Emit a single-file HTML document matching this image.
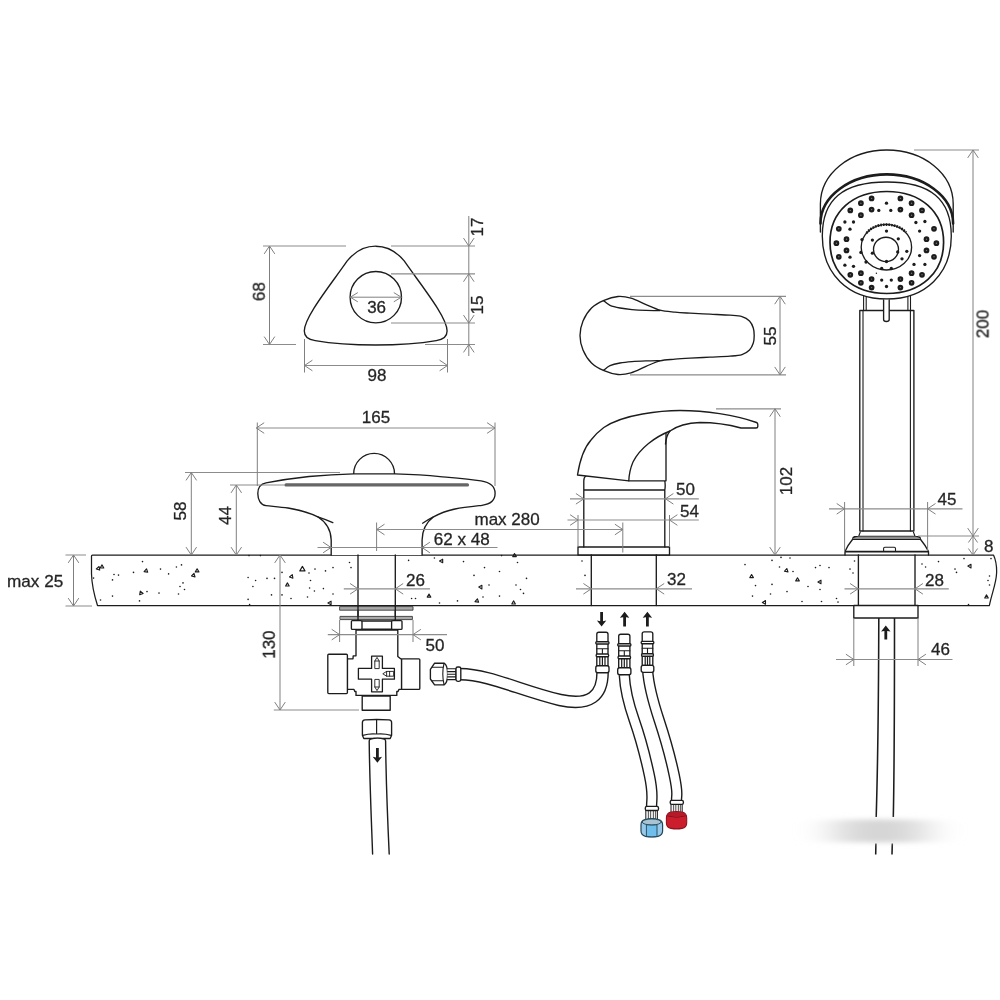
<!DOCTYPE html>
<html lang="en">
<head>
<meta charset="utf-8">
<title>Bath mixer set - dimensional drawing</title>
<style>
html,body{margin:0;padding:0;background:#fff}
body{width:1000px;height:1000px;overflow:hidden}
svg{display:block}
text{font-family:"Liberation Sans",Arial,sans-serif}
</style>
</head>
<body>
<svg width="1000" height="1000" viewBox="0 0 1000 1000">
<defs><filter id="blur" x="-50%" y="-50%" width="200%" height="200%"><feGaussianBlur stdDeviation="20 2.6"/></filter></defs>
<rect width="1000" height="1000" fill="#fff"/>
<g fill="none" stroke="#1c1c1c" stroke-width="1.35" stroke-linecap="round" stroke-linejoin="round">
<path d="M92.5 555 L993.5 555 C995.8 560 996.8 567 996.6 573 C996.2 584 991.5 594 989.4 605.5 L97.5 605.5 C94.5 596 91.8 585 91.5 574 L91.5 556 Q91.5 555 92.5 555Z" fill="#fff" stroke-width="1.25"/>
<g fill="#1c1c1c" stroke="none"><circle cx="142.5" cy="561.6" r="0.8"/><circle cx="114.0" cy="574.5" r="0.8"/><circle cx="118.5" cy="575.1" r="0.8"/><circle cx="112.5" cy="579.9" r="0.8"/><circle cx="93.6" cy="578.1" r="0.8"/><circle cx="133.5" cy="572.4" r="0.8"/><circle cx="160.5" cy="569.1" r="0.8"/><circle cx="176.4" cy="567.0" r="0.8"/><circle cx="181.5" cy="564.9" r="0.8"/><circle cx="168.6" cy="573.9" r="0.8"/><circle cx="183.0" cy="582.9" r="0.8"/><circle cx="180.0" cy="586.5" r="0.8"/><circle cx="184.5" cy="589.5" r="0.8"/><circle cx="178.5" cy="594.0" r="0.8"/><circle cx="159.0" cy="593.1" r="0.8"/><circle cx="147.0" cy="591.6" r="0.8"/><circle cx="112.5" cy="596.1" r="0.8"/><circle cx="100.5" cy="600.0" r="0.8"/><circle cx="139.5" cy="600.9" r="0.8"/><circle cx="248.1" cy="577.5" r="0.8"/><circle cx="255.6" cy="580.5" r="0.8"/><circle cx="252.9" cy="586.5" r="0.8"/><circle cx="267.0" cy="578.4" r="0.8"/><circle cx="274.5" cy="578.4" r="0.8"/><circle cx="271.5" cy="594.9" r="0.8"/><circle cx="248.1" cy="599.4" r="0.8"/><circle cx="249.6" cy="604.5" r="0.8"/><circle cx="282.0" cy="572.4" r="0.8"/><circle cx="282.0" cy="594.9" r="0.8"/><circle cx="291.0" cy="598.5" r="0.8"/><circle cx="307.5" cy="597.0" r="0.8"/><circle cx="315.0" cy="569.1" r="0.8"/><circle cx="325.5" cy="570.9" r="0.8"/><circle cx="333.0" cy="567.6" r="0.8"/><circle cx="309.0" cy="573.0" r="0.8"/><circle cx="310.5" cy="580.5" r="0.8"/><circle cx="309.6" cy="588.0" r="0.8"/><circle cx="314.4" cy="591.0" r="0.8"/><circle cx="323.4" cy="588.6" r="0.8"/><circle cx="333.0" cy="594.0" r="0.8"/><circle cx="349.5" cy="562.5" r="0.8"/><circle cx="351.0" cy="567.6" r="0.8"/><circle cx="249.0" cy="555.6" r="0.8"/><circle cx="260.4" cy="555.6" r="0.8"/><circle cx="408.6" cy="560.4" r="0.8"/><circle cx="434.4" cy="558.0" r="0.8"/><circle cx="463.5" cy="561.6" r="0.8"/><circle cx="484.5" cy="567.6" r="0.8"/><circle cx="499.5" cy="571.5" r="0.8"/><circle cx="517.5" cy="562.5" r="0.8"/><circle cx="526.5" cy="578.4" r="0.8"/><circle cx="474.0" cy="575.4" r="0.8"/><circle cx="489.0" cy="585.0" r="0.8"/><circle cx="516.0" cy="585.0" r="0.8"/><circle cx="520.5" cy="589.5" r="0.8"/><circle cx="523.5" cy="593.4" r="0.8"/><circle cx="499.5" cy="596.1" r="0.8"/><circle cx="483.0" cy="597.0" r="0.8"/><circle cx="457.5" cy="600.9" r="0.8"/><circle cx="439.5" cy="603.0" r="0.8"/><circle cx="411.6" cy="598.5" r="0.8"/><circle cx="415.5" cy="598.5" r="0.8"/><circle cx="582.0" cy="561.0" r="0.8"/><circle cx="585.0" cy="575.4" r="0.8"/><circle cx="501.6" cy="555.6" r="0.8"/><circle cx="745.0" cy="564.6" r="0.8"/><circle cx="772.0" cy="560.4" r="0.8"/><circle cx="781.0" cy="557.4" r="0.8"/><circle cx="790.0" cy="558.0" r="0.8"/><circle cx="779.5" cy="567.0" r="0.8"/><circle cx="793.0" cy="571.5" r="0.8"/><circle cx="815.5" cy="567.6" r="0.8"/><circle cx="820.0" cy="565.5" r="0.8"/><circle cx="829.0" cy="567.6" r="0.8"/><circle cx="850.0" cy="569.1" r="0.8"/><circle cx="854.5" cy="561.0" r="0.8"/><circle cx="853.0" cy="573.0" r="0.8"/><circle cx="772.0" cy="584.4" r="0.8"/><circle cx="755.5" cy="585.6" r="0.8"/><circle cx="787.0" cy="591.6" r="0.8"/><circle cx="808.0" cy="586.5" r="0.8"/><circle cx="820.0" cy="589.5" r="0.8"/><circle cx="770.5" cy="594.0" r="0.8"/><circle cx="752.5" cy="596.1" r="0.8"/><circle cx="802.0" cy="601.5" r="0.8"/><circle cx="821.5" cy="601.5" r="0.8"/><circle cx="836.5" cy="598.5" r="0.8"/><circle cx="838.0" cy="602.1" r="0.8"/><circle cx="922.0" cy="564.0" r="0.8"/><circle cx="925.6" cy="567.0" r="0.8"/><circle cx="938.5" cy="561.6" r="0.8"/><circle cx="955.0" cy="569.1" r="0.8"/><circle cx="956.5" cy="572.4" r="0.8"/><circle cx="964.0" cy="558.6" r="0.8"/><circle cx="989.5" cy="576.0" r="0.8"/><circle cx="988.0" cy="580.5" r="0.8"/><circle cx="989.5" cy="585.0" r="0.8"/><circle cx="991.0" cy="558.6" r="0.8"/><circle cx="968.5" cy="604.5" r="0.8"/></g>
<path stroke-width="1.1" d="M99.1 566.5L99.7 570.1L96.3 568.9ZM102.0 564.9L103.8 568.0L100.2 568.0ZM146.5 568.8L147.7 572.2L144.1 571.6ZM140.3 591.1L143.1 593.5L139.7 594.7ZM194.0 573.4L195.0 576.9L191.5 575.9ZM197.1 568.8L198.9 571.9L195.3 571.9ZM302.4 566.4L305.0 570.9L299.8 570.9ZM292.3 574.6L292.9 578.2L289.5 577.0ZM287.4 582.9L289.2 586.0L285.6 586.0ZM331.1 601.2L331.1 604.8L327.9 603.0ZM442.7 559.2L442.7 562.8L439.5 561.0ZM429.0 594.0L430.8 597.1L427.2 597.1ZM481.9 585.3L481.9 588.9L478.8 587.1ZM477.4 598.8L478.6 602.2L475.0 601.6ZM513.6 600.9L515.4 604.0L511.8 604.0ZM514.5 553.5L516.3 556.6L512.7 556.6ZM751.6 574.5L753.4 577.6L749.8 577.6ZM786.8 568.5L788.0 571.9L784.4 571.3ZM797.5 577.8L799.3 580.9L795.7 580.9ZM821.0 580.2L821.0 583.8L817.9 582.0ZM765.5 600.6L765.5 604.2L762.4 602.4ZM971.0 564.3L971.0 567.9L967.9 566.1ZM986.5 594.9L988.3 598.0L984.7 598.0Z"/>
<path d="M375.7 246.2C386.20 246.20 396.20 251.20 404.20 260.90C421.20 285.40 447.10 317.00 447.10 331.00C447.10 337.00 442.20 339.80 436.20 340.60C420.20 343.40 395.20 345.00 375.70 345.00C356.20 345.00 331.20 343.40 315.20 340.60C309.20 339.80 304.30 337.00 304.30 331.00C304.30 317.00 330.20 285.40 347.20 260.90C355.20 251.20 365.20 246.20 375.70 246.20Z" fill="#fff"/>
<circle cx="375.8" cy="297.2" r="25.7" fill="#fff"/>
<path d="M353.7 473.8 A20.4 20.4 0 0 1 394.5 473.8" fill="#fff"/>
<path d="M331.2 555 L331.2 540 C331 531 326.5 522.5 317.8 516.8 C309 512.5 300 510 288 508 C280 506.8 272 506.3 266 505.6 C260.5 505 257.8 499.5 257.8 493.5 C257.8 488 260.5 484 266 482.9 C281 480 295 478 309 476.5 C325 475 340 474.2 353.8 473.9 L395 473.9 C410 474.3 425 475 440 476.6 C455 478 469 479.2 481 480.9 C490 482.3 495.1 486.5 495.1 493.3 C495.1 500 490.5 504.3 482 505.3 C473 506.3 463 507.3 455 509 C446.5 510.8 439.5 513.5 433 517.2 C426 522.5 422.3 531 422.1 540 L422.1 555" fill="#fff"/>
<path d="M317.8 516.8 C323 518.5 328 520.3 332.8 522.6 M433 517.2 C429.5 519 426 521 422.6 523.2"/>
<path d="M286 484.9 L467.5 484.9" stroke="#666" stroke-width="3.1"/>
<path d="M358 555 L358 620 M395.3 555 L395.3 620"/>
<path d="M580.00 335.50C580.00 330.67 581.08 325.58 583.00 321.00C584.92 316.42 588.00 311.45 591.50 308.00C595.00 304.55 599.58 302.22 604.00 300.30C608.42 298.38 613.50 296.85 618.00 296.50C622.50 296.15 626.33 296.85 631.00 298.20C635.67 299.55 641.17 302.60 646.00 304.60C650.83 306.60 655.17 308.93 660.00 310.20C664.83 311.47 670.00 311.70 675.00 312.20C680.00 312.70 684.17 312.87 690.00 313.20C695.83 313.53 703.33 313.87 710.00 314.20C716.67 314.53 724.67 314.80 730.00 315.20C735.33 315.60 738.75 315.63 742.00 316.60C745.25 317.57 747.62 319.10 749.50 321.00C751.38 322.90 752.52 325.58 753.30 328.00C754.08 330.42 754.20 333.00 754.20 335.50C754.20 338.00 754.08 340.58 753.30 343.00C752.52 345.42 751.38 348.07 749.50 350.00C747.62 351.93 745.25 353.57 742.00 354.60C738.75 355.63 735.33 355.77 730.00 356.20C724.67 356.63 716.67 356.87 710.00 357.20C703.33 357.53 695.83 357.87 690.00 358.20C684.17 358.53 680.00 358.77 675.00 359.20C670.00 359.63 664.83 359.60 660.00 360.80C655.17 362.00 650.83 364.40 646.00 366.40C641.17 368.40 635.67 371.45 631.00 372.80C626.33 374.15 622.50 374.85 618.00 374.50C613.50 374.15 608.42 372.62 604.00 370.70C599.58 368.78 595.00 366.45 591.50 363.00C588.00 359.55 584.92 354.58 583.00 350.00C581.08 345.42 580.00 340.33 580.00 335.50Z" fill="#fff"/>
<path d="M603.50 300.60C604.58 301.38 607.25 304.07 610.00 305.30C612.75 306.53 616.33 307.28 620.00 308.00C623.67 308.72 627.67 309.20 632.00 309.60C636.33 310.00 641.33 310.23 646.00 310.40C650.67 310.57 657.67 310.57 660.00 310.60M603.50 370.40C604.58 369.62 607.25 366.93 610.00 365.70C612.75 364.47 616.33 363.68 620.00 363.00C623.67 362.32 627.67 361.95 632.00 361.60C636.33 361.25 641.33 361.07 646.00 360.90C650.67 360.73 657.67 360.65 660.00 360.60"/>
<rect x="578" y="547" width="91.5" height="8" fill="#fff"/>
<path d="M583.8 547 L583.8 481 Q583.8 477 586 476 M664.8 547 L664.8 490 Q665.6 485.5 664.8 481 M666 480.8 L666 432 M583.8 490 L664.8 490 M628.8 480.8 L666 480.8"/>
<path d="M577.5 475 C580 459 584 448 591 440 C595 435 599 431 603.8 427.5 C615 420 628 416.5 642.5 414 C655 411.8 668 410.5 680 410.5 C705 410.5 735 415 756.5 422.5 Q757.8 423 757.8 424.5 L757.8 426.5 Q757.8 428 756 428 L741 428 C730 425 715 422.5 700 422.5 C688 423 677 426 670 431 C655 437 640 448 633 462 C630 469 629 475 628.8 480.8 L577.5 475Z" fill="#fff"/>
<path d="M670 431 C667.5 434 666 438 665.5 444"/>
<path d="M591.3 555 L591.3 605.5 M656.3 555 L656.3 605.5"/>
<path d="M820.4 232 L820.4 204 C820.40 173.76 849.62 150.00 886.80 150.00C923.98 150.00 953.20 173.76 953.20 204.00 L953.2 232" fill="#fff"/>
<path d="M820.50 223.40C820.50 196.34 850.18 174.40 886.80 174.40C923.42 174.40 953.10 196.34 953.10 223.40" stroke-width="2.6"/>
<path d="M822.30 236.00C822.30 199.28 842.94 182.00 886.80 182.00C930.66 182.00 951.30 199.28 951.30 236.00C951.30 273.80 925.50 299.00 886.80 299.00C848.10 299.00 822.30 273.80 822.30 236.00Z" fill="#fff"/>
<path d="M830.00 242.30C830.00 211.82 852.72 191.50 886.80 191.50C920.88 191.50 943.60 211.82 943.60 242.30C943.60 273.02 920.88 293.50 886.80 293.50C852.72 293.50 830.00 273.02 830.00 242.30Z" stroke-width="1.7"/>
<ellipse cx="886.4" cy="247.2" rx="25.2" ry="22.8"/>
<path d="M866.5 233 C871 227.5 878 224.6 886.4 224.6 C894.5 224.6 901.5 227.3 906 232.5" stroke-width="2.6" stroke-dasharray="1.6 1.1" stroke-linecap="butt"/>
<ellipse cx="886" cy="249.4" rx="12.5" ry="12.2"/>
<g fill="#1c1c1c" stroke="none"><circle cx="871.6" cy="198.4" r="2.85"/><circle cx="900.4" cy="198.4" r="2.85"/><circle cx="860.9" cy="203.2" r="2.85"/><circle cx="911.6" cy="203.2" r="2.85"/><circle cx="871.6" cy="209.6" r="2.85"/><circle cx="900.4" cy="209.6" r="2.85"/><circle cx="850.3" cy="210.4" r="2.85"/><circle cx="922.0" cy="210.4" r="2.85"/><circle cx="860.9" cy="215.2" r="2.85"/><circle cx="911.6" cy="215.2" r="2.85"/><circle cx="838.8" cy="228.8" r="2.85"/><circle cx="934.0" cy="228.8" r="2.85"/><circle cx="846.5" cy="239.2" r="2.85"/><circle cx="926.5" cy="239.2" r="2.85"/><circle cx="836.4" cy="243.2" r="2.85"/><circle cx="936.4" cy="243.2" r="2.85"/><circle cx="846.5" cy="250.4" r="2.85"/><circle cx="926.5" cy="250.4" r="2.85"/><circle cx="838.8" cy="256.8" r="2.85"/><circle cx="934.0" cy="256.8" r="2.85"/><circle cx="860.9" cy="273.2" r="2.85"/><circle cx="911.6" cy="273.2" r="2.85"/><circle cx="850.3" cy="274.8" r="2.85"/><circle cx="922.0" cy="274.8" r="2.85"/><circle cx="871.6" cy="279.1" r="2.85"/><circle cx="900.4" cy="279.1" r="2.85"/><circle cx="860.9" cy="282.8" r="2.85"/><circle cx="911.6" cy="282.8" r="2.85"/><circle cx="871.6" cy="287.6" r="2.85"/><circle cx="900.4" cy="287.6" r="2.85"/><circle cx="844.9" cy="222.0" r="1.65"/><circle cx="853.5" cy="222.0" r="1.65"/><circle cx="915.9" cy="222.5" r="1.65"/><circle cx="924.9" cy="221.5" r="1.65"/><circle cx="850.0" cy="229.2" r="1.65"/><circle cx="919.6" cy="231.1" r="1.65"/><circle cx="886.5" cy="231.1" r="1.65"/><circle cx="872.4" cy="240.1" r="1.65"/><circle cx="898.3" cy="238.8" r="1.65"/><circle cx="906.8" cy="251.3" r="1.65"/><circle cx="872.4" cy="253.2" r="1.65"/><circle cx="897.7" cy="251.9" r="1.65"/><circle cx="850.0" cy="257.2" r="1.65"/><circle cx="919.6" cy="255.6" r="1.65"/><circle cx="902.0" cy="258.8" r="1.65"/><circle cx="886.5" cy="261.5" r="1.65"/><circle cx="844.9" cy="265.2" r="1.65"/><circle cx="853.5" cy="266.3" r="1.65"/><circle cx="914.0" cy="264.4" r="1.65"/><circle cx="924.9" cy="264.4" r="1.65"/><circle cx="881.7" cy="268.4" r="1.65"/><circle cx="891.3" cy="268.4" r="1.65"/><circle cx="881.7" cy="280.1" r="1.65"/><circle cx="891.3" cy="280.1" r="1.65"/><circle cx="886.5" cy="286.5" r="1.65"/><circle cx="886.5" cy="203.2" r="1.65"/><circle cx="878.8" cy="210.4" r="1.65"/><circle cx="890.8" cy="210.4" r="1.65"/><circle cx="862.0" cy="239.6" r="1.65"/><circle cx="860.9" cy="252.4" r="1.65"/><circle cx="866.0" cy="262.0" r="1.65"/><circle cx="876.4" cy="273.2" r="0.7"/></g>
<g fill="#777" stroke="none"><circle cx="871.6" cy="198.4" r="0.7"/><circle cx="900.4" cy="198.4" r="0.7"/><circle cx="860.9" cy="203.2" r="0.7"/><circle cx="911.6" cy="203.2" r="0.7"/><circle cx="871.6" cy="209.6" r="0.7"/><circle cx="900.4" cy="209.6" r="0.7"/><circle cx="850.3" cy="210.4" r="0.7"/><circle cx="922.0" cy="210.4" r="0.7"/><circle cx="860.9" cy="215.2" r="0.7"/><circle cx="911.6" cy="215.2" r="0.7"/><circle cx="838.8" cy="228.8" r="0.7"/><circle cx="934.0" cy="228.8" r="0.7"/><circle cx="846.5" cy="239.2" r="0.7"/><circle cx="926.5" cy="239.2" r="0.7"/><circle cx="836.4" cy="243.2" r="0.7"/><circle cx="936.4" cy="243.2" r="0.7"/><circle cx="846.5" cy="250.4" r="0.7"/><circle cx="926.5" cy="250.4" r="0.7"/><circle cx="838.8" cy="256.8" r="0.7"/><circle cx="934.0" cy="256.8" r="0.7"/><circle cx="860.9" cy="273.2" r="0.7"/><circle cx="911.6" cy="273.2" r="0.7"/><circle cx="850.3" cy="274.8" r="0.7"/><circle cx="922.0" cy="274.8" r="0.7"/><circle cx="871.6" cy="279.1" r="0.7"/><circle cx="900.4" cy="279.1" r="0.7"/><circle cx="860.9" cy="282.8" r="0.7"/><circle cx="911.6" cy="282.8" r="0.7"/><circle cx="871.6" cy="287.6" r="0.7"/><circle cx="900.4" cy="287.6" r="0.7"/></g>
<path d="M863.6 296 L863.6 310.5 M866.2 296.8 L866.2 310.5 M907.9 296.8 L907.9 310.5 M910.5 296 L910.5 310.5" stroke-width="1.1"/>
<path d="M859.8 310.5 L913.9 310.5 M859.8 310.5 L859.8 531 M913.9 310.5 L913.9 531 M859.8 531 L913.9 531"/>
<path d="M863 310.5 L863 531 M910.4 310.5 L910.4 531" stroke-width="1.1"/>
<path d="M883.6 299.8 L883.6 319.5 Q883.6 321.5 886.4 321.5 Q889.2 321.5 889.2 319.5 L889.2 299.8" fill="#fff"/>
<path d="M860.2 532.3 L858.7 536.3 L915 536.3 L913.5 532.3 M858.7 536.3 L854.5 536.6 Q852.6 537 852.5 539.5 M915 536.3 L918.8 536.6 Q920.6 537 920.6 539.5 M853 538 L920 538 M852.5 539.5 L920.6 539.5" stroke-width="1.1"/>
<path d="M852.5 539.5 C849.5 543 847 547 845 551.5 M920.6 539.5 C923.5 543 926.3 547 928.5 551.5 M845 551.5 L845 555 M928.5 551.5 L928.5 555"/>
<path d="M845 551.6 L928.5 551.6" stroke-width="1.9" stroke-linecap="butt"/>
<path d="M883.6 551 L883.6 548.4 Q883.6 547.2 884.8 547.2 L894.3 547.2 Q895.5 547.2 895.5 548.4 L895.5 551" stroke-width="1.1"/>
<path d="M858.4 555 L858.4 605.5 M915 555 L915 605.5"/>
<rect x="853.8" y="605.5" width="64.2" height="12.5" fill="#fff"/>
<path d="M878.8 618 C878.6 700 877.6 770 876.2 817 M894.5 618 C894.5 700 894.3 770 893.3 817 M875.9 843.5 L875.7 854.5 M892.3 843.5 L892 854.5" stroke-width="1.55" stroke-linecap="butt"/>
<path d="M885.8 625.6 l4.7 6 l-3.3 -0.6 v8.4 h-2.8 v-8.4 l-3.3 0.6 Z" fill="#1c1c1c" stroke="none"/>
<rect x="340" y="606.6" width="73" height="3.6" fill="#aaa" stroke="#3a3a3a" stroke-width="0.9"/>
<rect x="340.4" y="616.4" width="72" height="3.2" fill="#aaa" stroke="#3a3a3a" stroke-width="0.9"/>
<path d="M358 606 L358 620.4 M395.3 606 L395.3 620.4"/>
<rect x="351.4" y="620.6" width="10.6" height="8.8" rx="1" fill="#fff"/>
<rect x="391.6" y="620.6" width="10.4" height="8.8" rx="1" fill="#fff"/>
<path d="M362 621 L391.6 621 M362 629.2 L391.6 629.2"/>
<path d="M356 630 L397.8 630 L397.8 656.4 L400.6 658.8 L401.6 658.8 L401.6 689.4 L399 689.4 L398 691.5 L396.8 691.5 L396.8 695.4 L356 695.4 L356 691.5 L354.8 691.5 L354 689.4 L347.4 689.4 L347.4 658.8 L353 658.8 L353.2 655.8 L356 655.8 Z" fill="#fff"/>
<rect x="327.8" y="654.2" width="19.6" height="39.4" rx="1" fill="#fff"/>
<rect x="401.6" y="658.8" width="18.2" height="30.6" rx="1" fill="#fff"/>
<rect x="362.2" y="696" width="28" height="14.2" fill="#fff"/>
<path d="M371.6 656.2 L382.4 656.2 L382.4 668.4 L394.4 668.4 L394.4 679.2 L382.4 679.2 L382.4 691.8 L371.6 691.8 L371.6 679.2 L358.4 679.2 L358.4 668.4 L371.6 668.4 Z" stroke-width="1.3"/>
<path d="M374.8 668.2 L374.8 661 L377 657.4 L379.2 661 L379.2 668.2 Z M374.8 661 L379.2 661 M374.8 679.8 L374.8 687 L377 690.6 L379.2 687 L379.2 679.8 Z M374.8 687 L379.2 687 M393.3 671.4 L386.6 671.4 L382.8 673.8 L386.6 676.2 L393.3 676.2 Z M386.6 671.4 L386.6 676.2 M389.6 671.4 L389.6 676.2" stroke-width="0.9" stroke-linejoin="miter"/>
<path d="M365 719.9 Q376.8 719 389 719.9 Q391.6 720.1 391.6 722.6 L391.6 735.2 L390.2 738.5 L363.8 738.5 L362.4 735.2 L362.4 722.6 Q362.4 720.1 365 719.9 Z" fill="#fff"/>
<path d="M376.6 720 L376.6 734 M362.8 735.3 Q370 733.2 376.6 734 Q384 733.2 391.2 735.3" stroke-width="1.2"/>
<path d="M372.6 854 C371.4 820 369.6 780 369.2 741 Q369.2 739.6 370.5 739.2 Q377.4 737 384.3 739.2 Q385.6 739.6 385.6 741 C386 780 387.6 820 389.2 854" stroke-width="1.4" fill="#fff"/>
<path d="M377.4 762.8 l-4.7 -6 l3.3 0.6 v-9.4 h2.8 v9.4 l3.3 -0.6 Z" fill="#1c1c1c" stroke="none"/>
<path d="M460 674.1 C490 674.6 520 690.5 560 700 C590 706.5 602.6 696 602.6 672" stroke-width="12.6" stroke-linecap="butt"/>
<path d="M460 674.1 C490 674.6 520 690.5 560 700 C590 706.5 602.6 696 602.6 672" stroke="#fff" stroke-width="9.799999999999999" stroke-linecap="butt"/>
<path d="M430.4 669.3 L434.6 663.2 L444 663.2 Q447.6 665 447.6 674 Q447.6 683 444 684.8 L434.6 684.8 L430.4 679 Z" fill="#fff"/>
<path d="M432 667.2 L443 667.2 M432 680.8 L443 680.8 M444 663.4 Q441.6 674 444 684.6" stroke-width="1.1"/>
<path d="M447.4 668.8 L456 668.8 L456 679.6 L447.4 679.6 M447.6 671.6 L456 671.6 M447.6 674.2 L456 674.2 M447.6 676.9 L456 676.9" stroke-width="1.1" fill="#fff"/>
<rect x="456" y="667" width="4.8" height="14.4" rx="1.8" fill="#fff"/>
<path d="M624.3 675 C625 690 630 708 634.2 720 S645 755 649.3 775 S651.6 798 651.6 806" stroke-width="11.4" stroke-linecap="butt"/>
<path d="M624.3 675 C625 690 630 708 634.2 720 S645 755 649.3 775 S651.6 798 651.6 806" stroke="#fff" stroke-width="8.6" stroke-linecap="butt"/>
<path d="M647.6 670 C648.5 684 654.5 706 659.1 720 S670 755 674.2 775 S676.5 792 676.5 801" stroke-width="11.4" stroke-linecap="butt"/>
<path d="M647.6 670 C648.5 684 654.5 706 659.1 720 S670 755 674.2 775 S676.5 792 676.5 801" stroke="#fff" stroke-width="8.6" stroke-linecap="butt"/>
<path d="M596.8 641.7 L596.8 634.2 Q596.8 632.2 598.8 632.2 L606.0 632.2 Q608.0 632.2 608.0 634.2 L608.0 641.7" fill="#fff"/><rect x="595.8" y="641.7" width="13.2" height="2.4" rx="1" fill="#fff"/><rect x="596.8" y="644.1" width="11.2" height="10" fill="#fff"/><path d="M596.8 648.7 L608.0 648.7 M602.4 648.7 L602.4 654.1" stroke-width="1.1"/><rect x="596.1999999999999" y="654.1" width="12.399999999999999" height="2.6" rx="1" fill="#fff"/><rect x="596.8" y="656.7" width="11.2" height="9" fill="#fff"/><path d="M599.8 656.7 L599.8 665.7 M602.4 656.7 L602.4 665.7 M605.0 656.7 L605.0 665.7" stroke-width="1.2"/><rect x="595.8" y="665.7" width="13.2" height="7" rx="2" fill="#fff"/>
<path d="M618.6999999999999 643.7 L618.6999999999999 636.2 Q618.6999999999999 634.2 620.6999999999999 634.2 L627.9 634.2 Q629.9 634.2 629.9 636.2 L629.9 643.7" fill="#fff"/><rect x="617.6999999999999" y="643.7" width="13.2" height="2.4" rx="1" fill="#fff"/><rect x="618.6999999999999" y="646.1" width="11.2" height="10" fill="#fff"/><path d="M618.6999999999999 650.7 L629.9 650.7 M624.3 650.7 L624.3 656.1" stroke-width="1.1"/><rect x="618.0999999999999" y="656.1" width="12.399999999999999" height="2.6" rx="1" fill="#fff"/><rect x="618.6999999999999" y="658.7" width="11.2" height="9" fill="#fff"/><path d="M621.6999999999999 658.7 L621.6999999999999 667.7 M624.3 658.7 L624.3 667.7 M626.9 658.7 L626.9 667.7" stroke-width="1.2"/><rect x="617.6999999999999" y="667.7" width="13.2" height="7" rx="2" fill="#fff"/>
<path d="M642.2 641.3 L642.2 633.8 Q642.2 631.8 644.2 631.8 L650.8 631.8 Q652.8 631.8 652.8 633.8 L652.8 641.3" fill="#fff"/><rect x="641.2" y="641.3" width="12.6" height="2.4" rx="1" fill="#fff"/><rect x="642.2" y="643.6999999999999" width="10.6" height="10" fill="#fff"/><path d="M642.2 648.3 L652.8 648.3 M647.5 648.3 L647.5 653.6999999999999" stroke-width="1.1"/><rect x="641.6" y="653.6999999999999" width="11.799999999999999" height="2.6" rx="1" fill="#fff"/><rect x="642.2" y="656.3" width="10.6" height="9" fill="#fff"/><path d="M645.2 656.3 L645.2 665.3 M647.5 656.3 L647.5 665.3 M649.8 656.3 L649.8 665.3" stroke-width="1.2"/><rect x="641.2" y="665.3" width="12.6" height="7" rx="2" fill="#fff"/>
<g fill="#1c1c1c" stroke="none"><path d="M601.6 626.6 l-4.7 -6 l3.3 0.6 v-9.2 h2.8 v9.2 l3.3 -0.6 Z"/><path d="M624.6 611.8 l4.7 6 l-3.3 -0.6 v9.2 h-2.8 v-9.2 l-3.3 0.6 Z"/><path d="M647.4 611.8 l4.7 6 l-3.3 -0.6 v9.2 h-2.8 v-9.2 l-3.3 0.6 Z"/></g>
<path d="M646.2 810 L657.4 810 L657.4 819.5 L646.2 819.5Z" stroke-width="1" fill="#f2f2f2"/>
<path d="M648.4 810 L648.4 819 M650.6 810 L650.6 819 M653.4 810 L653.4 819 M655.6 810 L655.6 819" stroke="#555" stroke-width="1"/>
<rect x="645.3" y="806.3" width="13.2" height="4.2" rx="1.6" fill="#fff"/>
<path d="M641 825 Q641 820.5 645 819.5 Q651.8 817.8 658.5 819.5 Q662.6 820.5 662.6 825 L662.6 831 Q662.6 835 658 836.3 Q651.8 837.6 645.5 836.3 Q641 835 641 831 Z" fill="#98c9e8" stroke="#23465a" stroke-width="1.2"/>
<ellipse cx="651.8" cy="822" rx="9.6" ry="3" fill="#a9c4d0" stroke="#23465a" stroke-width="0.9"/>
<path d="M646.8 824.8 Q651.8 825.6 657 824.8 L657 836.4 Q651.8 837.3 646.8 836.4 Z" fill="#6fbeec" stroke="#23465a" stroke-width="0.9"/>
<path d="M671.4 804 L682.2 804 L682.2 812.5 L671.4 812.5Z" stroke-width="1" fill="#f2f2f2"/>
<path d="M673.6 804 L673.6 812 M675.8 804 L675.8 812 M678.4 804 L678.4 812 M680.4 804 L680.4 812" stroke="#555" stroke-width="1"/>
<rect x="670.2" y="800.4" width="13.2" height="4" rx="1.6" fill="#fff"/>
<path d="M666.4 818 Q666.4 813 671 812 Q676.5 811 682 812 Q686.7 813 686.7 818 L686.7 823 Q686.7 827.5 682 828.4 Q676.5 829.4 671 828.4 Q666.4 827.5 666.4 823 Z" fill="#cc1d2c" stroke="#8c1420" stroke-width="1.1"/>
<path d="M668 816 Q676.5 818.6 685 816" stroke="#7c1019" stroke-width="1"/>
<ellipse cx="676.5" cy="814.4" rx="8.6" ry="2.3" fill="#b51a28" stroke="none"/>
</g>
<g fill="none" stroke="#808080" stroke-width="1.0">
<path stroke="#8c8c8c" stroke-width="1.2" d="M65.50 555.00L86.00 555.00M65.50 606.00L92.00 606.00M263.00 246.00L346.00 246.00M263.00 344.50L296.00 344.50M304.50 365.50L447.50 365.50M391.00 246.00L475.00 246.00M391.00 273.80L475.00 273.80M391.00 323.00L475.00 323.00M425.00 344.50L475.00 344.50M256.30 428.00L495.00 428.00M185.00 472.50L340.00 472.50M230.00 485.00L285.00 485.00M317.50 547.50L497.50 547.50M376.60 529.50L622.80 529.50M343.80 588.80L430.00 588.80M273.80 710.00L359.00 710.00M630.00 296.30L786.00 296.30M630.00 374.80L786.00 374.80M570.00 498.80L698.80 498.80M567.50 520.00L698.80 520.00M576.00 588.80L692.00 588.80M716.00 408.80L781.00 408.80M914.00 150.00L979.00 150.00M918.00 536.00L979.00 536.00M829.00 508.80L962.50 508.80M844.50 588.80L948.80 588.80M836.00 659.50L952.50 659.50M327.80 634.60L447.00 634.60"/>
<path d="M73.50 555.00L73.50 606.00M68.20 562.90L73.50 555.00L78.80 562.90M68.20 598.10L73.50 606.00L78.80 598.10M269.50 246.00L269.50 344.50M264.20 253.90L269.50 246.00L274.80 253.90M264.20 336.60L269.50 344.50L274.80 336.60M304.50 339.00L304.50 372.50M447.50 339.00L447.50 372.50M312.40 360.20L304.50 365.50L312.40 370.80M439.60 360.20L447.50 365.50L439.60 370.80M468.80 216.00L468.80 356.00M463.50 238.10L468.80 246.00L474.10 238.10M463.50 281.70L468.80 273.80L474.10 281.70M463.50 315.10L468.80 323.00L474.10 315.10M463.50 352.40L468.80 344.50L474.10 352.40M350 297.2L401.5 297.2M357.80 292.60L350.30 297.20L357.80 301.80M393.80 292.60L401.30 297.20L393.80 301.80M257.30 422.50L257.30 486.00M495.00 422.50L495.00 486.00M264.20 422.70L256.30 428.00L264.20 433.30M487.10 422.70L495.00 428.00L487.10 433.30M191.30 472.50L191.30 555.00M186.00 480.40L191.30 472.50L196.60 480.40M186.00 547.10L191.30 555.00L196.60 547.10M236.30 485.00L236.30 555.00M231.00 492.90L236.30 485.00L241.60 492.90M231.00 547.10L236.30 555.00L241.60 547.10M323.10 542.20L331.00 547.50L323.10 552.80M429.90 542.20L422.00 547.50L429.90 552.80M384.50 524.20L376.60 529.50L384.50 534.80M614.90 524.20L622.80 529.50L614.90 534.80M376.60 522.50L376.60 551.00M622.80 522.50L622.80 552.50M350.10 583.50L358.00 588.80L350.10 594.10M403.20 583.50L395.30 588.80L403.20 594.10M280.00 555.00L280.00 710.00M274.70 562.90L280.00 555.00L285.30 562.90M274.70 702.10L280.00 710.00L285.30 702.10M780.00 296.30L780.00 374.80M774.70 304.20L780.00 296.30L785.30 304.20M774.70 366.90L780.00 374.80L785.30 366.90M575.90 493.50L583.80 498.80L575.90 504.10M673.40 493.50L665.50 498.80L673.40 504.10M570.10 514.70L578.00 520.00L570.10 525.30M677.40 514.70L669.50 520.00L677.40 525.30M578.00 515.00L578.00 547.00M669.50 515.00L669.50 547.00M583.40 583.50L591.30 588.80L583.40 594.10M664.20 583.50L656.30 588.80L664.20 594.10M775.00 408.80L775.00 555.00M769.70 416.70L775.00 408.80L780.30 416.70M769.70 547.10L775.00 555.00L780.30 547.10M973.00 150.00L973.00 536.00M967.70 157.90L973.00 150.00L978.30 157.90M967.70 528.10L973.00 536.00L978.30 528.10M973.00 536.00L973.00 555.00M968.40 542.50L973.00 536.00L977.60 542.50M968.40 548.50L973.00 555.00L977.60 548.50M836.70 503.50L844.60 508.80L836.70 514.10M935.50 503.50L927.60 508.80L935.50 514.10M844.60 502.00L844.60 551.00M927.60 502.00L927.60 551.00M850.10 583.50L858.00 588.80L850.10 594.10M922.90 583.50L915.00 588.80L922.90 594.10M845.90 654.20L853.80 659.50L845.90 664.80M925.90 654.20L918.00 659.50L925.90 664.80M853.80 618.00L853.80 666.00M918.00 618.00L918.00 666.00M331.70 629.30L339.60 634.60L331.70 639.90M420.90 629.30L413.00 634.60L420.90 639.90M339.60 620.00L339.60 642.00M413.00 620.00L413.00 642.00"/>
</g>
<g font-family="'Liberation Sans', Arial, sans-serif" font-size="17" fill="#1e1e1e" stroke="#1e1e1e" stroke-width="0.3" opacity="0.98">
<text x="7" y="586.8" textLength="56.3" lengthAdjust="spacingAndGlyphs">max 25</text>
<text x="264.3" y="291.5" text-anchor="middle" transform="rotate(-90 264.3 291.5)">68</text>
<text x="377" y="381" text-anchor="middle">98</text>
<text x="483.4" y="227" text-anchor="middle" transform="rotate(-90 483.4 227)">17</text>
<text x="483.4" y="305" text-anchor="middle" transform="rotate(-90 483.4 305)">15</text>
<text x="376.6" y="313.4" text-anchor="middle">36</text>
<text x="376" y="423.4" text-anchor="middle">165</text>
<text x="185.5" y="511" text-anchor="middle" transform="rotate(-90 185.5 511)">58</text>
<text x="230.8" y="515.5" text-anchor="middle" transform="rotate(-90 230.8 515.5)">44</text>
<text x="433.8" y="545" textLength="56" lengthAdjust="spacingAndGlyphs">62 x 48</text>
<text x="474.5" y="524.5">max 280</text>
<text x="406" y="586">26</text>
<text x="274.4" y="644.6" text-anchor="middle" transform="rotate(-90 274.4 644.6)">130</text>
<text x="775.5" y="336" text-anchor="middle" transform="rotate(-90 775.5 336)">55</text>
<text x="676" y="495">50</text>
<text x="680" y="516.5">54</text>
<text x="667" y="585">32</text>
<text x="792" y="481" text-anchor="middle" transform="rotate(-90 792 481)">102</text>
<text x="988.5" y="324" text-anchor="middle" transform="rotate(-90 988.5 324)">200</text>
<text x="984" y="551.5">8</text>
<text x="937.5" y="505">45</text>
<text x="925" y="585.5">28</text>
<text x="931" y="655">46</text>
<text x="425.6" y="650.6">50</text>
</g>
<rect x="836" y="819.5" width="88" height="23" rx="8" fill="#d5d5d5" filter="url(#blur)"/>
</svg>
</body>
</html>
